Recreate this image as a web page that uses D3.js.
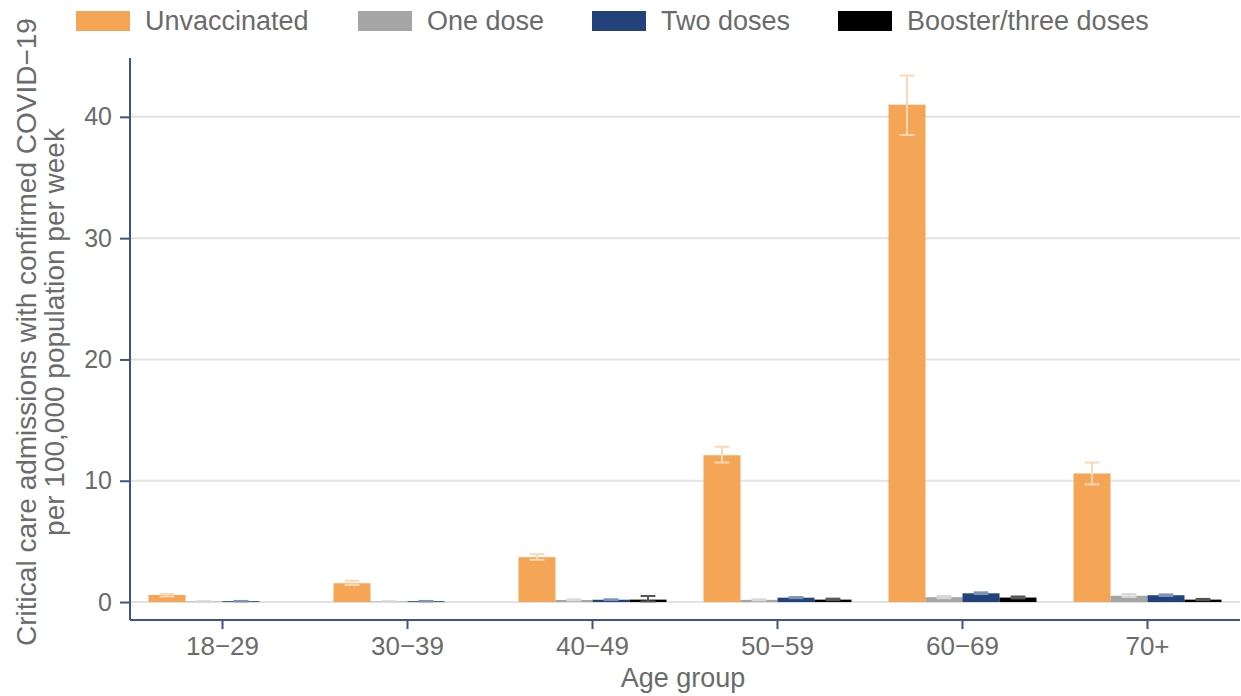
<!DOCTYPE html>
<html>
<head>
<meta charset="utf-8">
<script src="https://cdn.jsdelivr.net/npm/d3@7"></script>
<style>
  html, body { margin: 0; padding: 0; background: #fff; }
  svg { display: block; font-family: "Liberation Sans", Arial, Helvetica, sans-serif; }
</style>
</head>
<body>
<svg id="chart" width="1241" height="696"></svg>
<script>
// Age groups and vaccination status
const ageGroups = ["18\u221229", "30\u221239", "40\u221249", "50\u221259", "60\u221269", "70+"];
const statuses = ["Unvaccinated", "One dose", "Two doses", "Booster/three doses"];

// Rates per 100,000 per week (null = not reported)
const unvaccinated = [0.58, 1.55, 3.7, 12.1, 41.0, 10.6];
const oneDose      = [0.04, 0.04, 0.17, 0.18, 0.4, 0.52];
const twoDoses     = [0.07, 0.07, 0.19, 0.36, 0.72, 0.56];
const booster      = [null, null, 0.2, 0.2, 0.37, 0.2];

// 95% interval bounds
const unvaccinatedLo = [0.46, 1.42, 3.48, 11.5, 38.5, 9.7];
const unvaccinatedHi = [0.66, 1.75, 3.95, 12.8, 43.4, 11.5];
const oneDoseLo      = [0.02, 0.02, 0.13, 0.14, 0.32, 0.42];
const oneDoseHi      = [0.07, 0.07, 0.22, 0.23, 0.5, 0.66];
const twoDosesLo     = [0.05, 0.05, 0.16, 0.32, 0.66, 0.5];
const twoDosesHi     = [0.09, 0.09, 0.23, 0.41, 0.8, 0.63];
const boosterLo      = [null, null, 0.05, 0.15, 0.3, 0.15];
const boosterHi      = [null, null, 0.5, 0.28, 0.46, 0.26];

const yTicks = [0, 10, 20, 30, 40];

const fills = ["#f5a556", "#a5a5a5", "#23417a", "#000000"];
const errColors = ["#fcd9b6", "#d9d9d9", "#7f93b8", "#555555"];

const values = [unvaccinated, oneDose, twoDoses, booster];
const los = [unvaccinatedLo, oneDoseLo, twoDosesLo, boosterLo];
const his = [unvaccinatedHi, oneDoseHi, twoDosesHi, boosterHi];

const rows = [];
statuses.forEach((s, si) => {
  ageGroups.forEach((g, gi) => {
    if (values[si][gi] != null) {
      rows.push({ group: g, status: s, si, value: values[si][gi], lo: los[si][gi], hi: his[si][gi] });
    }
  });
});

const svg = d3.select("#chart");
const plotLeft = 130, plotRight = 1240, plotTop = 58, plotBottom = 620;
const textColor = "#6b6b6b";
const axisColor = "#3f5386";

const x = d3.scaleBand().domain(ageGroups).range([plotLeft, plotRight]).paddingInner(0).paddingOuter(0);
const inner = d3.scaleBand().domain(statuses).range([x.bandwidth() * 0.1, x.bandwidth() * 0.9]);
const y = d3.scaleLinear().domain([-1.48, 44.85]).range([plotBottom, plotTop]);

// Horizontal gridlines
svg.append("g").selectAll("line").data(yTicks).join("line")
  .attr("x1", plotLeft).attr("x2", plotRight)
  .attr("y1", d => y(d)).attr("y2", d => y(d))
  .attr("stroke", "#e3e3e3").attr("stroke-width", 2);

// Bars
svg.append("g").selectAll("rect").data(rows).join("rect")
  .attr("x", d => x(d.group) + inner(d.status))
  .attr("width", inner.bandwidth())
  .attr("y", d => y(d.value))
  .attr("height", d => y(0) - y(d.value))
  .attr("fill", d => fills[d.si]);

// Error bars
const capW = inner.bandwidth() * 0.4;
const cx = d => x(d.group) + inner(d.status) + inner.bandwidth() / 2;
const eb = svg.append("g").selectAll("g").data(rows).join("g")
  .attr("stroke", d => errColors[d.si]).attr("stroke-width", 2);
eb.append("line")
  .attr("x1", cx).attr("x2", cx)
  .attr("y1", d => y(d.lo)).attr("y2", d => y(d.hi));
eb.selectAll("line.cap").data(d => [[d, d.lo], [d, d.hi]]).join("line")
  .attr("class", "cap")
  .attr("x1", ([d]) => cx(d) - capW / 2)
  .attr("x2", ([d]) => cx(d) + capW / 2)
  .attr("y1", ([, v]) => y(v)).attr("y2", ([, v]) => y(v));

// Y axis
const yAxis = svg.append("g").attr("transform", `translate(${plotLeft},0)`)
  .call(d3.axisLeft(y).tickValues(yTicks).tickSize(10).tickPadding(8));
yAxis.select(".domain").attr("d", `M0,${plotTop}V${plotBottom}`).attr("stroke", axisColor).attr("stroke-width", 2);
yAxis.selectAll(".tick line").attr("stroke", axisColor).attr("stroke-width", 2);
yAxis.selectAll(".tick text").attr("fill", textColor).attr("font-size", 25);

// X axis
const xAxis = svg.append("g").attr("transform", `translate(0,${plotBottom})`)
  .call(d3.axisBottom(x).tickSize(9).tickPadding(8));
xAxis.select(".domain").attr("d", `M${plotLeft},0H${plotRight}`).attr("stroke", axisColor).attr("stroke-width", 2);
xAxis.selectAll(".tick line").attr("stroke", axisColor).attr("stroke-width", 2);
xAxis.selectAll(".tick text").attr("fill", textColor).attr("font-size", 26);

// Axis titles
svg.append("text").attr("x", (plotLeft + plotRight) / 2 - 2).attr("y", 687)
  .attr("text-anchor", "middle").attr("fill", textColor).attr("font-size", 27).text("Age group");

const yt = svg.append("text").attr("transform", `translate(0,332) rotate(-90)`)
  .attr("text-anchor", "middle").attr("fill", textColor).attr("font-size", 28);
yt.append("tspan").attr("x", 0).attr("y", 36).text("Critical care admissions with confirmed COVID\u221219");
yt.append("tspan").attr("x", 0).attr("y", 64).text("per 100,000 population per week");

// Legend
const legendX = [76, 358, 592, 838];
const leg = svg.append("g").selectAll("g").data(statuses).join("g")
  .attr("transform", (d, i) => `translate(${legendX[i]},0)`);
leg.append("rect").attr("x", 0).attr("y", 11).attr("width", 54).attr("height", 20)
  .attr("fill", (d, i) => fills[i]);
leg.append("text").attr("x", 69).attr("y", 30).attr("fill", textColor).attr("font-size", 27)
  .text(d => d);
</script>
</body>
</html>
